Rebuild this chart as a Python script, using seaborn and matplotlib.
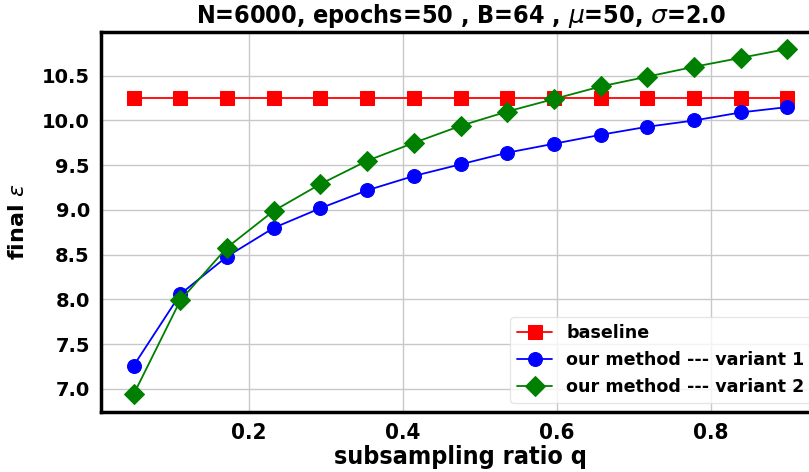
import numpy as np
import pandas as pd
import seaborn as sns
import matplotlib.pyplot as plt

# subsampling ratios (15 points between 0.05 and 0.9)
q = [0.05, 0.1107, 0.1714, 0.2321, 0.2929, 0.3536, 0.4143, 0.475,
     0.5357, 0.5964, 0.6571, 0.7179, 0.7786, 0.8393, 0.9]

baseline = [10.25] * 15
variant1 = [7.26, 8.06, 8.48, 8.80, 9.02, 9.22, 9.38, 9.51,
            9.64, 9.74, 9.84, 9.93, 10.00, 10.09, 10.15]
variant2 = [6.94, 7.99, 8.58, 8.99, 9.29, 9.55, 9.75, 9.94,
            10.10, 10.24, 10.38, 10.49, 10.60, 10.70, 10.80]

series = [
    ("baseline", baseline, "red", "s"),
    ("our method --- variant 1", variant1, "blue", "o"),
    ("our method --- variant 2", variant2, "green", "D"),
]

sns.set_style("whitegrid")
plt.rcParams['font.family'] = ['DejaVu Sans']
plt.rcParams['mathtext.fontset'] = 'dejavusans'
for key in ['text.color', 'axes.labelcolor', 'xtick.color', 'ytick.color']:
    plt.rcParams[key] = 'black'

fig = plt.figure(figsize=(8.09, 4.72), dpi=100)
# axes run a little past the right edge, like the cropped original
ax = fig.add_axes([0.1248, 0.128, 0.889, 0.805])

for name, vals, col, mk in series:
    sns.lineplot(x=q, y=vals, ax=ax, color=col, marker=mk, markersize=10,
                 markeredgecolor=col, markerfacecolor=col, linewidth=1.3,
                 label=name)

ax.grid(True, color="#c8c8c8", linewidth=1.0)
for s in ax.spines.values():
    s.set_color("black")
    s.set_linewidth(2.5)

yt = [7.0, 7.5, 8.0, 8.5, 9.0, 9.5, 10.0, 10.5]
ax.set_yticks(yt)
ax.set_xticks([0.2, 0.4, 0.6, 0.8])
ax.set_yticklabels([f"{v:.1f}" for v in yt], fontsize=14, fontweight="bold")
ax.set_xticklabels(["0.2", "0.4", "0.6", "0.8"], fontsize=16,
                   fontweight="bold", fontstretch="condensed")
ax.tick_params(axis="both", length=0, pad=8)

ax.set_title(r"N=6000, epochs=50 , B=64 , $\mu$=50, $\sigma$=2.0",
             fontsize=18, fontweight="bold", fontstretch="condensed", pad=6)
ax.set_xlabel("subsampling ratio q", fontsize=18, fontweight="bold",
              fontstretch="condensed", labelpad=2)
ax.set_ylabel(r"final $\varepsilon$", fontsize=16, fontweight="bold", labelpad=10)

leg = ax.legend(loc="lower right", prop={"size": 12.6, "weight": "bold"},
                frameon=True, handlelength=2.0, borderaxespad=0.5,
                labelspacing=0.5)
leg.get_frame().set_edgecolor("#e0e0e0")

fig.savefig("out.png", dpi=100)
